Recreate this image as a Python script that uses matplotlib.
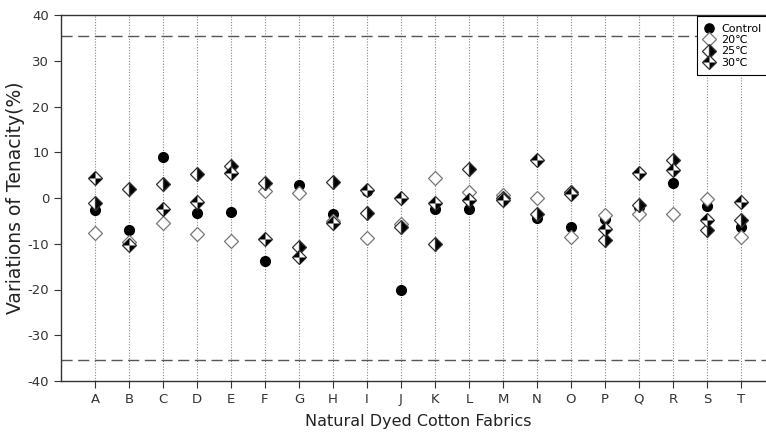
import matplotlib
matplotlib.use("Agg")
import matplotlib.pyplot as plt
from matplotlib.path import Path

plt.rcParams["axes.unicode_minus"] = False

# fabrics A..T
fabrics = list("ABCDEFGHIJKLMNOPQRST")

# variations of tenacity (%)
control = [-2.6, -7.1, 8.9, -3.3, -3.1, -13.7, 2.8, -3.5, 1.5, -20.1,
           -2.4, -2.4, -0.4, -4.3, -6.4, -4.6, -2.0, 3.2, -1.7, -6.4]
t20 = [-7.6, -9.6, -5.5, -7.8, -9.4, 1.6, 1.2, -5.0, -8.7, -5.7,
       4.4, 1.4, 0.7, -0.1, -8.5, -3.8, -3.5, -3.5, -0.3, -8.5]
t25 = [-1.0, 2.0, 3.0, 5.3, 7.0, 3.2, -10.8, 3.6, -3.3, -6.3,
       -10.1, 6.3, -0.1, -3.5, 1.3, -9.2, -1.6, 8.3, -7.0, -4.8]
t30 = [4.4, -10.2, -2.3, -0.9, 5.4, -9.0, -13.0, -5.5, 1.7, 0.1,
       -1.0, -0.4, -0.4, 8.2, 0.8, -6.8, 5.5, 6.1, -4.8, -0.9]

x = list(range(1, len(fabrics) + 1))

# quartered diamond: two opposite black quadrants
pin = Path.make_compound_path(
    Path([(0, 0), (-1, 0), (0, 1), (0, 0)], closed=True),
    Path([(0, 0), (1, 0), (0, -1), (0, 0)], closed=True),
)

fig = plt.figure(figsize=(7.66, 4.38), dpi=100)
ax = fig.add_axes([61/766, 57/438, 714/766, 366/438])

for xi in x:
    ax.axvline(xi, color="#888888", linestyle=(0, (1, 1.5)), linewidth=0.8, zorder=1)
ax.axhline(35.5, color="#555555", linestyle=(0, (8, 4)), linewidth=1, zorder=1)
ax.axhline(-35.5, color="#555555", linestyle=(0, (8, 4)), linewidth=1, zorder=1)

ms = 7
h0, = ax.plot(x, control, "o", color="black", markersize=ms, linestyle="none", zorder=3)
h1, = ax.plot(x, t20, "D", markerfacecolor="white", markeredgecolor="#777777",
              markeredgewidth=0.9, markersize=ms, linestyle="none", zorder=3)
h2, = ax.plot(x, t25, "D", fillstyle="right", markerfacecolor="black",
              markerfacecoloralt="white", markeredgecolor="#333333",
              markeredgewidth=0.9, markersize=ms, linestyle="none", zorder=4)
h3a, = ax.plot(x, t30, "D", markerfacecolor="white", markeredgecolor="#333333",
               markeredgewidth=0.9, markersize=ms, linestyle="none", zorder=4)
h3b, = ax.plot(x, t30, marker=pin, color="black", markeredgewidth=0,
               markersize=ms * 1.414, linestyle="none", zorder=5)

ax.set_xlim(0, 21)
ax.set_ylim(-40, 40)
ax.set_xticks(x)
ax.set_xticklabels(fabrics)
ax.set_yticks(range(-40, 41, 10))
ax.tick_params(axis="both", colors="#333333", labelsize=9.5, length=5, width=0.8)
for s in ax.spines.values():
    s.set_color("#333333")
    s.set_linewidth(1)

ax.set_xlabel("Natural Dyed Cotton Fabrics", fontsize=11.5, color="#222222", labelpad=6)
ax.set_ylabel("Variations of Tenacity(%)", fontsize=13.5, color="#222222", labelpad=2)

leg = ax.legend([h0, h1, h2, (h3a, h3b)], ["Control", "20℃", "25℃", "30℃"],
                loc="upper left", bbox_to_anchor=((697 - 61) / 714, 0.996),
                borderaxespad=0, fancybox=False, edgecolor="black", fontsize=8,
                handlelength=0.8, handletextpad=0.7, labelspacing=0.1,
                borderpad=0.7, framealpha=1, markerscale=0.95)
leg.get_frame().set_linewidth(0.8)

fig.savefig("out.png", dpi=100)
